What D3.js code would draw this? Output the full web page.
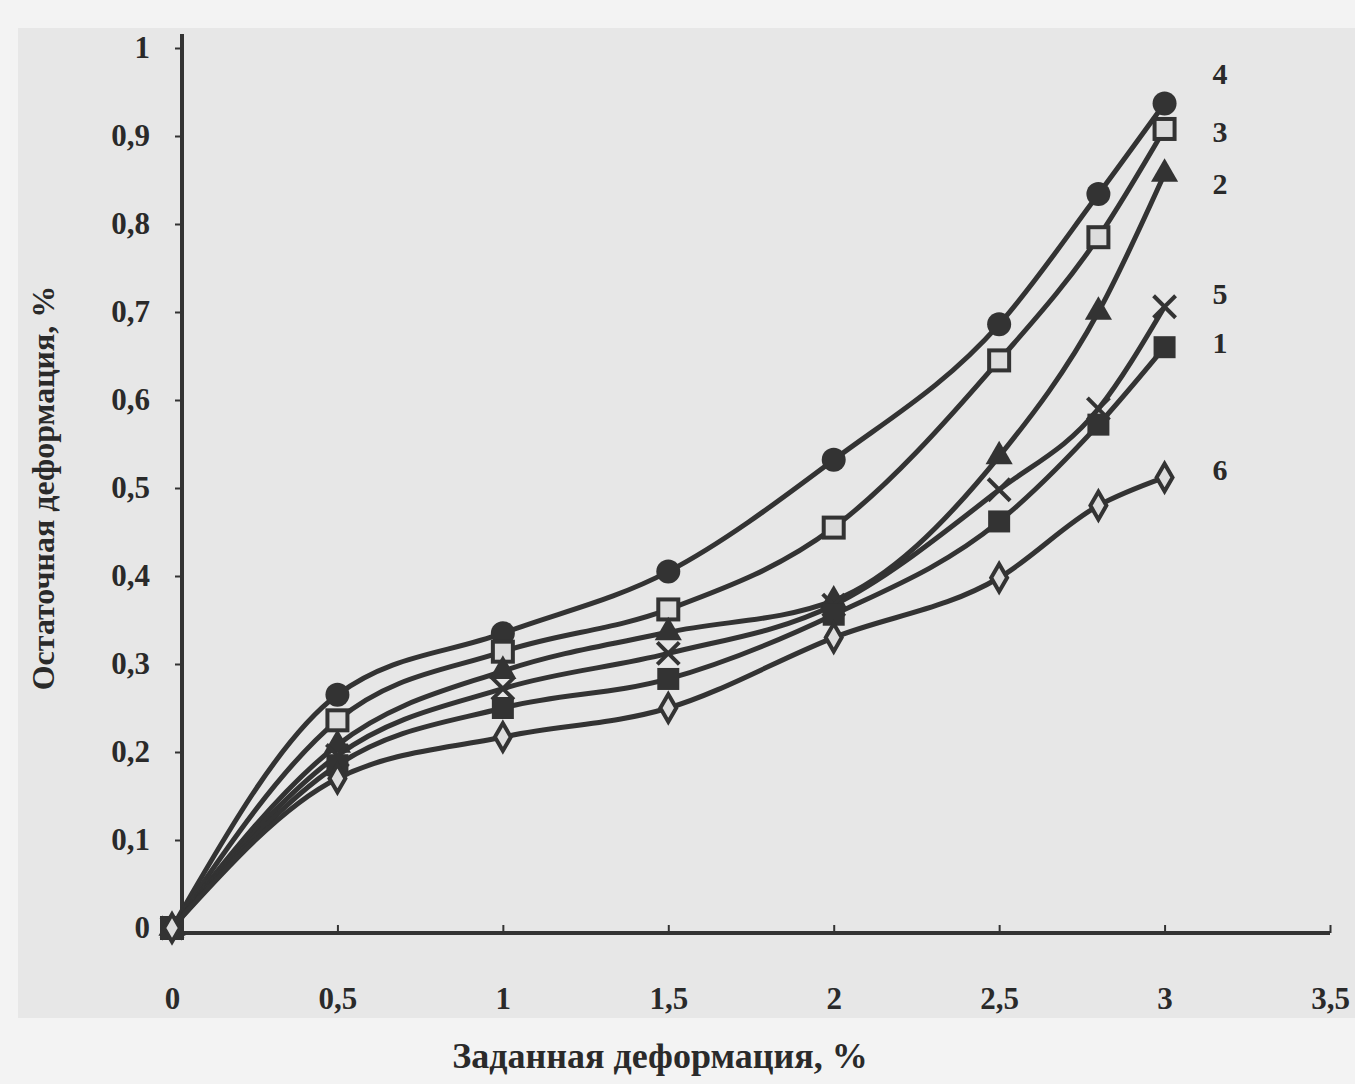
<!DOCTYPE html>
<html>
<head>
<meta charset="utf-8">
<title></title>
<script src="https://cdn.jsdelivr.net/npm/d3@7"></script>
<style>
  body { margin: 0; background: #f3f3f3; }
  text { font-family: "Liberation Serif", "DejaVu Serif", serif; fill: #2a2a2a; }
</style>
</head>
<body>
<div id="chart"></div>
<script>
// data
var xs = [0, 0.5, 1, 1.5, 2, 2.5, 2.8, 3];
var s1 = [0, 0.185, 0.250, 0.283, 0.356, 0.462, 0.572, 0.660];
var s2 = [0, 0.208, 0.292, 0.336, 0.372, 0.536, 0.700, 0.857];
var s3 = [0, 0.236, 0.314, 0.362, 0.455, 0.645, 0.785, 0.908];
var s4 = [0, 0.265, 0.335, 0.405, 0.532, 0.686, 0.834, 0.937];
var s5 = [0, 0.196, 0.272, 0.312, 0.367, 0.498, 0.590, 0.706];
var s6 = [0, 0.170, 0.217, 0.250, 0.330, 0.398, 0.480, 0.512];
var seriesNames = ["4", "3", "2", "5", "1", "6"];
var seriesVals = [s4, s3, s2, s5, s1, s6];
var seriesMark = ["circle", "openSquare", "triangle", "cross", "square", "diamond"];
var xTicks = [0, 0.5, 1, 1.5, 2, 2.5, 3, 3.5];
var xTickLabels = ["0", "0,5", "1", "1,5", "2", "2,5", "3", "3,5"];
var yTicks = [0, 0.1, 0.2, 0.3, 0.4, 0.5, 0.6, 0.7, 0.8, 0.9, 1];
var yTickLabels = ["0", "0,1", "0,2", "0,3", "0,4", "0,5", "0,6", "0,7", "0,8", "0,9", "1"];

var W = 1355, H = 1084;
var ink = "#333";

var svg = d3.select("#chart").append("svg")
  .attr("width", W)
  .attr("height", H);

// scanned paper
svg.append("rect").attr("x", 18).attr("y", 28).attr("width", W - 18).attr("height", 990)
  .attr("fill", "#e7e7e7");

var x = d3.scaleLinear().domain([0, 3.5]).range([172, 1330]);
var y = d3.scaleLinear().domain([0, 1]).range([928, 48]);

// axes
var xAxis = d3.axisBottom(x).tickValues(xTicks).tickSize(-8)
  .tickFormat(function(d, i){ return xTickLabels[i]; });
var gx = svg.append("g").attr("transform", "translate(0," + (y(0) + 5) + ")").call(xAxis);
gx.select(".domain").attr("d", "M" + (x(0) - 12) + ",0H" + x(3.5)).attr("stroke", ink).attr("stroke-width", 4);
gx.selectAll(".tick line").attr("stroke", ink).attr("stroke-width", 2);
gx.selectAll(".tick text").attr("dy", 0).attr("y", 76)
  .style("font-size", "31px").style("font-weight", "bold");

var yAxis = d3.axisLeft(y).tickValues(yTicks).tickSize(7)
  .tickFormat(function(d, i){ return yTickLabels[i]; });
var gy = svg.append("g").attr("transform", "translate(" + (x(0) + 10) + ",0)").call(yAxis);
gy.select(".domain").attr("d", "M0," + (y(0) + 7) + "V" + (y(1) - 14)).attr("stroke", ink).attr("stroke-width", 4);
gy.selectAll(".tick line").attr("stroke", ink).attr("stroke-width", 2);
gy.selectAll(".tick text").attr("x", -32)
  .style("font-size", "31px").style("font-weight", "bold");

// axis titles
svg.append("text")
  .attr("x", 660).attr("y", 1068)
  .attr("text-anchor", "middle")
  .style("font-size", "36px").style("font-weight", "bold")
  .text("Заданная деформация, %");

svg.append("text")
  .attr("transform", "translate(54," + y(0.5) + ") rotate(-90)")
  .attr("text-anchor", "middle")
  .style("font-size", "32px").style("font-weight", "bold")
  .text("Остаточная деформация, %");

// lines
var line = d3.line()
  .x(function(d){ return x(d[0]); })
  .y(function(d){ return y(d[1]); })
  .curve(d3.curveMonotoneX);

seriesVals.forEach(function(vals, k){
  var pts = xs.map(function(v, i){ return [v, vals[i]]; });
  svg.append("path")
    .datum(pts)
    .attr("fill", "none")
    .attr("stroke", ink)
    .attr("stroke-width", 5)
    .attr("d", line);

  var g = svg.append("g");
  pts.forEach(function(p){
    var cx = x(p[0]), cy = y(p[1]);
    var m = seriesMark[k];
    if (m === "circle") {
      g.append("circle").attr("cx", cx).attr("cy", cy).attr("r", 12).attr("fill", ink);
    } else if (m === "square") {
      g.append("rect").attr("x", cx - 11).attr("y", cy - 11).attr("width", 22).attr("height", 22).attr("fill", ink);
    } else if (m === "openSquare") {
      g.append("rect").attr("x", cx - 10).attr("y", cy - 10).attr("width", 20).attr("height", 20)
        .attr("fill", "#ddd").attr("stroke", ink).attr("stroke-width", 4);
    } else if (m === "triangle") {
      g.append("path").attr("transform", "translate(" + cx + "," + cy + ")")
        .attr("d", d3.symbol().type(d3.symbolTriangle).size(320)).attr("fill", ink);
    } else if (m === "cross") {
      g.append("path").attr("transform", "translate(" + cx + "," + cy + ")")
        .attr("d", "M-11,-11L11,11M-11,11L11,-11").attr("stroke", ink).attr("stroke-width", 4);
    } else {
      g.append("path").attr("transform", "translate(" + cx + "," + cy + ")")
        .attr("d", d3.symbol().type(d3.symbolDiamond).size(220))
        .attr("fill", "#ddd").attr("stroke", ink).attr("stroke-width", 4);
    }
  });
});

// series numbers at the right
var labelY = { "4": 0.97, "3": 0.905, "2": 0.845, "5": 0.72, "1": 0.665, "6": 0.52 };
seriesNames.forEach(function(n){
  svg.append("text")
    .attr("x", 1220).attr("y", y(labelY[n]) + 10)
    .attr("text-anchor", "middle")
    .style("font-size", "30px").style("font-weight", "bold")
    .text(n);
});
</script>
</body>
</html>
